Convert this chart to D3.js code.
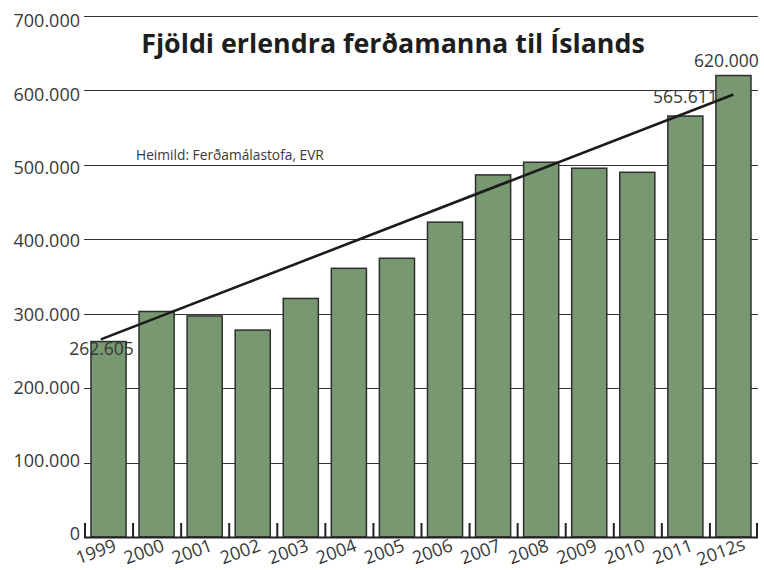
<!DOCTYPE html>
<html>
<head>
<meta charset="utf-8">
<script src="https://cdn.jsdelivr.net/npm/d3@7"></script>
<style>
  body { margin: 0; background: #fff; }
  svg { display: block; font-family: 'Open Sans', sans-serif; }
</style>
</head>
<body>
<script>
const years = ['1999', '2000', '2001', '2002', '2003', '2004', '2005', '2006', '2007', '2008', '2009', '2010', '2011', '2012s'];
const visitors = [262605, 303000, 297000, 278000, 320500, 361000, 374500, 423000, 486500, 503500, 495500, 490000, 565611, 620000];
const yTicks = [0, 100000, 200000, 300000, 400000, 500000, 600000, 700000];
const labelledYears = ['1999', '2011', '2012s'];
// trend line, ends given as bar index + value
const trendIndex = [-0.16, 13];
const trendValues = [265500, 594500];

const title = 'Fjöldi erlendra ferðamanna til Íslands';
const source = 'Heimild: Ferðamálastofa, EVR';

const width = 764;
const height = 570;
const textColor = '#383838';

const data = years.map((year, i) => ({ year, value: visitors[i] }));

const isl = d3.formatLocale({ decimal: ',', thousands: '.', grouping: [3], currency: ['', ''] });
const fmt = isl.format(',');

const svg = d3.select('body')
  .append('svg')
  .attr('width', width)
  .attr('height', height);

const x = d3.scaleBand()
  .domain(years)
  .range([84, 757]);

const y = d3.scaleLinear()
  .domain([0, 700000])
  .range([537, 16]);

// tick labels sit on a slightly tighter scale than the rules
const yLabel = d3.scaleLinear()
  .domain([0, 700000])
  .range([534, 21]);

const barPad = 0.145;
const barW = x.bandwidth() * 0.73;
const center = d => x(d) + x.bandwidth() * barPad + barW / 2;

// grid
svg.append('g')
  .selectAll('line')
  .data(yTicks.filter(d => d > 0))
  .enter()
  .append('line')
  .attr('x1', 84)
  .attr('x2', 758)
  .attr('y1', d => Math.round(y(d)) + 0.5)
  .attr('y2', d => Math.round(y(d)) + 0.5)
  .attr('stroke', '#333')
  .attr('stroke-width', 1.2);

svg.append('g')
  .selectAll('text')
  .data(yTicks)
  .enter()
  .append('text')
  .attr('x', 80)
  .attr('y', d => yLabel(d))
  .attr('dy', '0.36em')
  .attr('text-anchor', 'end')
  .attr('font-size', 18)
  .attr('fill', textColor)
  .text(d => fmt(d));

// bars
svg.append('g')
  .selectAll('rect')
  .data(data)
  .enter()
  .append('rect')
  .attr('x', d => x(d.year) + x.bandwidth() * barPad)
  .attr('width', barW)
  .attr('y', d => y(d.value))
  .attr('height', d => y(0) - y(d.value))
  .attr('fill', '#789872')
  .attr('stroke', '#2e2e2e')
  .attr('stroke-width', 1.5);

// x axis
const axis = svg.append('g');
axis.append('line')
  .attr('x1', 84)
  .attr('x2', 758)
  .attr('y1', y(0) + 0.5)
  .attr('y2', y(0) + 0.5)
  .attr('stroke', '#222')
  .attr('stroke-width', 2);

axis.selectAll('.tick')
  .data(years.concat(['end']))
  .enter()
  .append('line')
  .attr('class', 'tick')
  .attr('x1', (d, i) => i < years.length ? x(d) + 1 : x.range()[1])
  .attr('x2', (d, i) => i < years.length ? x(d) + 1 : x.range()[1])
  .attr('y1', y(0) - 14)
  .attr('y2', y(0) + 1)
  .attr('stroke', '#222')
  .attr('stroke-width', 2);

axis.selectAll('text')
  .data(years)
  .enter()
  .append('text')
  .attr('transform', d => `translate(${ center(d) - 10.5 },557.5) rotate(-20)`)
  .attr('text-anchor', 'middle')
  .attr('font-size', 18)
  .attr('fill', textColor)
  .text(d => d);

// trend
const xi = d3.scaleLinear()
  .domain([0, years.length - 1])
  .range([center(years[0]), center(years[years.length - 1])]);

svg.append('path')
  .datum(trendIndex.map((t, i) => [t, trendValues[i]]))
  .attr('d', d3.line().x(d => xi(d[0])).y(d => y(d[1])))
  .attr('stroke', '#1b1b1b')
  .attr('stroke-width', 2.6)
  .attr('fill', 'none');

// value labels
const labelOffset = { '1999': [-7, 13], '2011': [0, -13], '2012s': [-7, -9] };

svg.append('g')
  .selectAll('text')
  .data(data.filter(d => labelledYears.includes(d.year)))
  .enter()
  .append('text')
  .attr('x', d => center(d.year) + labelOffset[d.year][0])
  .attr('y', d => y(d.value) + labelOffset[d.year][1])
  .attr('text-anchor', 'middle')
  .attr('font-size', 17.5)
  .attr('fill', textColor)
  .text(d => fmt(d.value));

// title and source
svg.append('text')
  .attr('x', 393)
  .attr('y', 53)
  .attr('text-anchor', 'middle')
  .attr('font-weight', 700)
  .attr('fill', '#1e1e1e')
  .attr('font-size', 26)
  .text(title)
  .style('font-size', function() {
    return `${ 26 * 504 / this.getComputedTextLength() }px`;
  });

svg.append('text')
  .attr('x', 136)
  .attr('y', 160)
  .attr('font-size', 13.5)
  .attr('fill', textColor)
  .text(source)
  .style('font-size', function() {
    return `${ 13.5 * 188 / this.getComputedTextLength() }px`;
  });
</script>
</body>
</html>
